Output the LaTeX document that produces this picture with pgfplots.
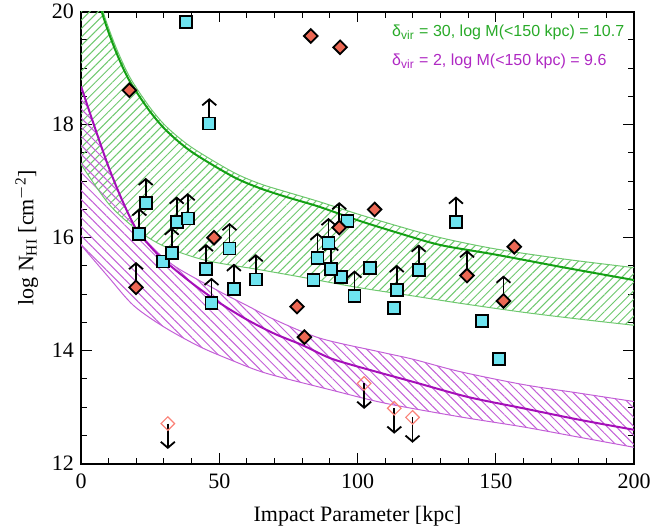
\documentclass[border=0pt]{standalone}
\usepackage{fontspec}
\setmainfont{Liberation Serif}
\newfontfamily\legendfont{Liberation Sans}
\usepackage{pgfplots}
\pgfplotsset{compat=1.18}
\usepgfplotslibrary{fillbetween}
\usetikzlibrary{patterns.meta,arrows.meta}

\definecolor{bandgreen}{RGB}{20,160,20}
\definecolor{hatchgreen}{RGB}{110,200,110}
\definecolor{textgreen}{RGB}{40,170,40}
\definecolor{bandmag}{RGB}{165,15,185}
\definecolor{hatchmag}{RGB}{195,95,215}
\definecolor{textmag}{RGB}{175,40,195}
\definecolor{sqcyan}{RGB}{110,228,240}
\definecolor{dmred}{RGB}{236,104,84}
\definecolor{openred}{RGB}{250,130,120}

\begin{document}
\begin{tikzpicture}
\begin{axis}[
    width=276.5pt, height=226pt, scale only axis,
    xmin=0, xmax=200, ymin=12, ymax=20,
    xtick={0,50,...,200}, ytick={12,14,...,20},
    minor x tick num=4, minor y tick num=3,
    tick align=inside,
    major tick length=5.3pt, minor tick length=3pt,
    every tick/.style={black, line width=0.5pt},
    axis line style={line width=1pt},
    tick label style={font=\fontsize{11}{13}\selectfont},
    label style={font=\fontsize{11}{13}\selectfont},
    xticklabel style={yshift=-1.5pt},
    xlabel style={yshift=-2pt},
    /pgf/number format/assume math mode=true,
    xlabel={Impact Parameter [kpc]},
    ylabel={log N\textsubscript{HI} [cm\textsuperscript{$-$2}]},
]

% green band (delta_vir = 30)
\addplot[name path=gU, hatchgreen, line width=0.5pt, smooth] coordinates {
(0,21.6)(4,20.75)(8,20.0)(12,19.45)(16,19.0)(19,18.73)(25,18.3)(31,17.96)(40,17.6)
(55,17.16)(65,16.95)(75,16.8)(86,16.64)(100,16.42)(115,16.2)(130,16.0)(150,15.8)
(175,15.62)(200,15.47)};
\addplot[name path=gL, hatchgreen, line width=0.5pt, smooth] coordinates {
(0,17.3)(10,16.6)(20,16.15)(30,15.85)(45,15.6)(65,15.43)(80,15.3)(100,15.12)
(120,14.97)(137,14.84)(160,14.68)(180,14.56)(200,14.45)};
\addplot[pattern={Lines[angle=45,distance=3pt,line width=0.5pt]}, pattern color=hatchgreen, draw=none]
    fill between[of=gU and gL];

% magenta band (delta_vir = 2)
\addplot[name path=mU, hatchmag, line width=0.5pt, smooth] coordinates {
(0,18.68)(5,17.95)(10,17.25)(15,16.65)(20,16.15)(25,15.87)(30,15.64)(36,15.43)
(50,15.05)(60,14.8)(70,14.55)(86.5,14.22)(108,13.98)(120,13.85)(137,13.63)
(160,13.4)(180,13.25)(200,13.1)};
\addplot[name path=mL, hatchmag, line width=0.5pt, smooth] coordinates {
(0,15.87)(10,15.3)(19,14.8)(30,14.42)(43,14.07)(55,13.82)(67,13.6)(90,13.31)
(110,13.07)(137,12.83)(160,12.65)(180,12.47)(200,12.29)};
\addplot[pattern={Lines[angle=-45,distance=3.2pt,line width=0.5pt]}, pattern color=hatchmag, draw=none]
    fill between[of=mU and mL];

% model lines
\addplot[bandgreen, line width=1pt, smooth] coordinates {
(0,21.5)(4,20.65)(8,19.92)(12,19.37)(16,18.92)(19,18.66)(25,18.23)(31,17.89)(40,17.52)
(55,17.08)(65,16.87)(75,16.71)(86,16.55)(100,16.31)(115,16.08)(130,15.87)(150,15.7)
(175,15.47)(200,15.25)};
\addplot[bandmag, line width=1pt, smooth] coordinates {
(0,18.68)(5,17.95)(10,17.25)(15,16.65)(20,16.15)(25,15.85)(30,15.6)(40,15.2)
(50,14.85)(60,14.55)(70,14.3)(80,14.1)(90,13.87)(100,13.72)(120,13.45)(140,13.18)
(160,12.98)(180,12.78)(200,12.6)};

% limit arrows
\addplot[black, line width=0.9pt, -{Straight Barb[length=3pt,width=7pt]},
    quiver={u=\thisrow{u},v=\thisrow{v}}] table {
x y u v
46.4 18.02 0 0.45
23.4 16.61 0 0.45
21.1 16.07 0 0.45
34.6 16.28 0 0.45
38.6 16.34 0 0.45
53.7 15.81 0 0.45
32.8 15.73 0 0.45
45.2 15.44 0 0.45
55.3 15.09 0 0.45
63.2 15.26 0 0.45
47.2 14.84 0 0.45
89.5 15.90 0 0.45
85.5 15.64 0 0.45
90.5 15.45 0 0.45
98.9 14.97 0 0.45
122.1 15.43 0 0.45
114.2 15.07 0 0.45
135.6 16.28 0 0.45
19.9 15.12 0 0.45
93.4 16.18 0 0.45
139.6 15.33 0 0.45
152.8 14.88 0 0.45
31.4 12.71 0 -0.45
102.4 13.42 0 -0.45
113.3 12.98 0 -0.45
119.9 12.82 0 -0.45
};

% cyan squares
\addplot[only marks, mark=square*, mark size=3pt,
    mark options={fill=sqcyan, draw=black, line width=0.9pt}] coordinates {
(37.9,19.82)(29.8,15.58)(96.4,16.30)(84.1,15.25)(94.0,15.30)(104.6,15.46)
(113.3,14.76)(145.0,14.53)(151.3,13.85)
(46.4,18.02)(23.4,16.61)(21.1,16.07)(34.6,16.28)(38.6,16.34)(53.7,15.81)
(32.8,15.73)(45.2,15.44)(55.3,15.09)(63.2,15.26)(47.2,14.84)(89.5,15.90)
(85.5,15.64)(90.5,15.45)(98.9,14.97)(122.1,15.43)(114.2,15.07)(135.6,16.28)};

% red diamonds
\addplot[only marks, mark=square*, mark size=2.4pt,
    mark options={rotate=45, fill=dmred, draw=black, line width=0.9pt}] coordinates {
(83.1,19.57)(93.7,19.37)(17.5,18.61)(48.1,16.0)(106.2,16.50)(78.1,14.78)
(80.8,14.24)(156.7,15.84)(19.9,15.12)(93.4,16.18)(139.6,15.33)(152.8,14.88)};

% open diamonds (upper limits)
\addplot[only marks, mark=square, mark size=2.4pt,
    mark options={rotate=45, draw=openred, line width=0.6pt}] coordinates {
(31.4,12.71)(102.4,13.42)(113.3,12.98)(119.9,12.82)};

\node[anchor=west, text=textgreen, font=\legendfont\fontsize{8}{10}\selectfont]
    at (rel axis cs:0.55,0.955) {δ\textsubscript{vir} = 30, log M(<150 kpc) = 10.7};
\node[anchor=west, text=textmag, font=\legendfont\fontsize{8}{10}\selectfont]
    at (rel axis cs:0.55,0.891) {δ\textsubscript{vir} = 2, log M(<150 kpc) = 9.6};
\end{axis}
\pgfresetboundingbox
\path ([shift={(-40.5pt,-31pt)}]current axis.south west)
    rectangle ([shift={(9pt,5.85pt)}]current axis.north east);
\end{tikzpicture}
\end{document}
